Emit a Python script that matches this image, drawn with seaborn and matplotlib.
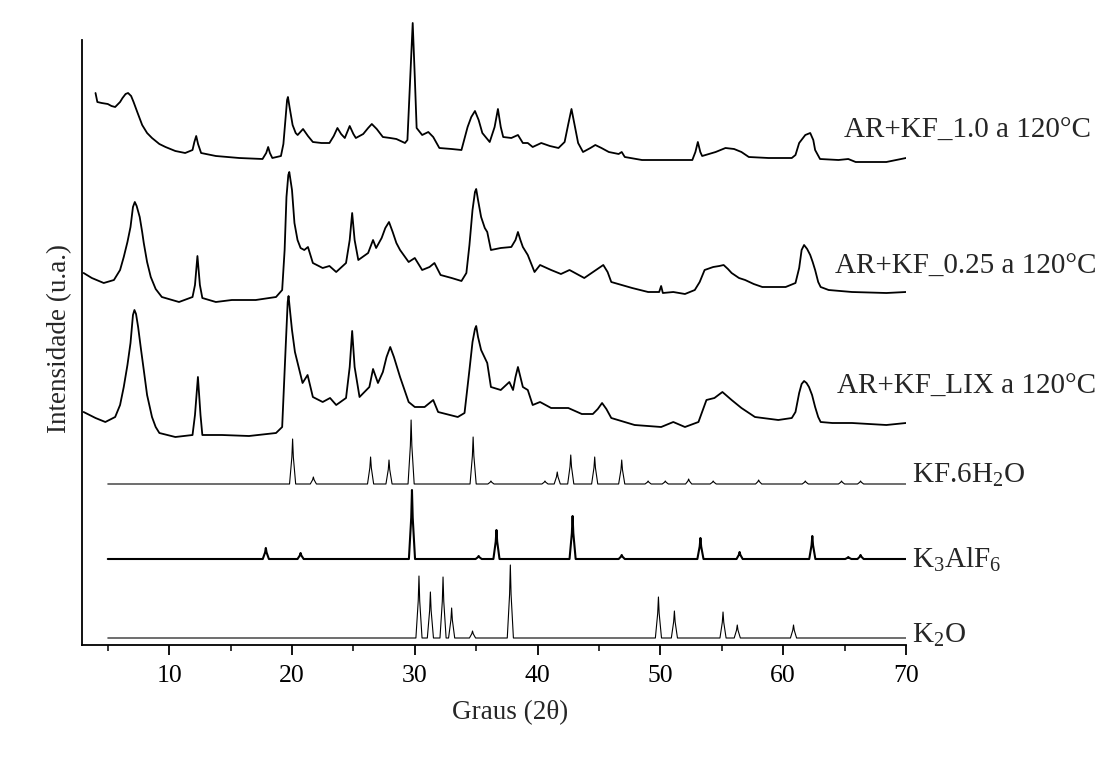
import numpy as np
import pandas as pd
import matplotlib
matplotlib.use("Agg")
import matplotlib.pyplot as plt
import seaborn as sns

# ---------------- data (2theta in degrees, intensity in a.u.) ----------------
kf10_x = [4.00, 4.15, 4.5, 5.0, 5.3, 5.6, 6.0, 6.2, 6.45, 6.65,
          6.9, 7.1, 7.4, 7.8, 8.2, 8.6, 9.2, 9.7, 10.5, 11.3,
          11.9, 12.05, 12.2, 12.35, 12.6, 13.8, 15.7, 17.6, 17.9, 18.06,
          18.2, 18.4, 19.1, 19.3, 19.45, 19.6, 19.67, 19.8, 20.05, 20.3,
          20.46, 20.9, 21.3, 21.7, 22.4, 23.05, 23.4, 23.7, 24.0, 24.3,
          24.7, 25.0, 25.2, 25.8, 26.2, 26.5, 26.9, 27.4, 28.0, 28.5,
          29.2, 29.4, 29.63, 29.83, 30.0, 30.15, 30.6, 31.1, 31.5, 32.0,
          33.0, 33.8, 34.3, 34.6, 34.9, 35.2, 35.5, 36.1, 36.5, 36.77,
          37.0, 37.2, 37.86, 38.4, 38.8, 39.2, 39.6, 40.3, 41.0, 41.7,
          42.2, 42.5, 42.76, 43.0, 43.3, 43.7, 44.3, 44.7, 45.2, 45.8,
          46.6, 46.85, 47.1, 48.5, 50.1, 52.6, 52.85, 53.05, 53.25, 53.4,
          54.5, 55.3, 56.0, 56.6, 57.2, 58.8, 60.7, 61.0, 61.3, 61.8,
          62.2, 62.45, 62.6, 63.0, 64.5, 65.3, 65.9, 68.4, 70.0]
kf10_y = [69, 60, 59, 58, 56, 55, 60, 64, 68, 69,
          66, 60, 50, 37, 29, 24, 18, 15, 11, 9,
          12, 20, 26, 18, 9, 6, 4, 3, 9, 15,
          9, 4, 6, 18, 40, 62, 65, 55, 37, 29,
          27, 33, 26, 20, 19, 19, 26, 34, 28, 24,
          36, 28, 24, 28, 34, 38, 33, 25, 24, 23,
          19, 22, 85, 139, 85, 34, 27, 30, 25, 14,
          13, 12, 35, 45, 51, 42, 29, 20, 35, 53,
          35, 25, 24, 27, 19, 19, 15, 19, 16, 14,
          20, 38, 53, 38, 19, 10, 14, 17, 14, 10,
          8, 10, 5, 2, 2, 2, 10, 20, 10, 6,
          10, 14, 13, 10, 5, 4, 4, 7, 19, 27,
          29, 22, 12, 3, 2, 3, 0, 0, 4]

kf025_x = [3.03, 3.7, 4.67, 5.5, 6.0, 6.3, 6.6, 6.85, 7.05, 7.2,
           7.35, 7.6, 7.8, 7.93, 8.2, 8.5, 8.9, 9.4, 10.8, 11.9,
           12.1, 12.3, 12.5, 12.7, 13.8, 15.1, 17.05, 18.7, 19.2, 19.4,
           19.55, 19.7, 19.78, 19.9, 20.0, 20.2, 20.45, 20.7, 21.0, 21.3,
           21.7, 22.5, 23.05, 23.6, 24.4, 24.7, 24.9, 25.1, 25.4, 26.2,
           26.6, 26.85, 27.3, 27.6, 27.9, 28.2, 28.5, 28.8, 29.5, 30.0,
           30.6, 31.2, 31.6, 32.1, 33.0, 33.8, 34.2, 34.45, 34.7, 34.9,
           35.0, 35.15, 35.4, 35.7, 35.9, 36.2, 37.0, 37.86, 38.2, 38.4,
           38.6, 38.8, 39.2, 39.75, 40.2, 41.1, 41.9, 42.6, 43.8, 44.4,
           45.0, 45.35, 45.7, 46.0, 47.7, 49.0, 49.9, 50.06, 50.2, 51.05,
           52.0, 52.8, 53.2, 53.6, 54.3, 54.8, 55.15, 55.5, 55.8, 56.4,
           56.9, 57.6, 58.3, 60.2, 61.0, 61.3, 61.5, 61.7, 61.95, 62.2,
           62.4, 62.6, 62.85, 63.05, 63.7, 65.6, 68.4, 70.0]
kf025_y = [27, 22, 17, 20, 30, 43, 58, 73, 93, 98,
           94, 83, 68, 57, 38, 23, 11, 3, -2, 3,
           15, 44, 15, 2, -2, 0, 0, 3, 10, 50,
           103, 125, 128, 118, 110, 77, 60, 52, 50, 53,
           37, 32, 34, 28, 37, 60, 87, 60, 40, 47,
           60, 52, 62, 72, 78, 68, 57, 50, 38, 42,
           30, 33, 37, 25, 22, 19, 27, 55, 90, 108,
           111, 100, 83, 72, 68, 50, 52, 53, 60, 68,
           60, 53, 45, 28, 35, 30, 26, 30, 22, 27,
           32, 35, 28, 18, 12, 8, 8, 14, 7, 8,
           6, 10, 18, 30, 33, 34, 35, 31, 27, 22,
           20, 16, 13, 13, 17, 32, 50, 55, 51, 45,
           38, 30, 18, 13, 10, 8, 7, 8]

kflix_x = [3.03, 4.0, 4.8, 5.6, 6.0, 6.3, 6.6, 6.85, 7.05, 7.17,
           7.3, 7.47, 7.7, 7.93, 8.2, 8.6, 8.9, 9.2, 10.5, 11.9,
           12.1, 12.34, 12.55, 12.7, 14.3, 16.5, 18.7, 19.2, 19.5, 19.65,
           19.72, 19.85, 20.0, 20.24, 20.6, 20.86, 21.27, 21.7, 22.5, 23.1,
           23.6, 24.4, 24.7, 24.9, 25.1, 25.5, 26.3, 26.6, 27.0, 27.4,
           27.7, 28.0, 28.3, 28.8, 29.5, 30.0, 30.8, 31.5, 31.9, 33.5,
           34.05, 34.45, 34.7, 34.9, 35.0, 35.15, 35.4, 35.9, 36.2, 37.0,
           37.7, 38.0, 38.2, 38.4, 38.6, 38.8, 39.2, 39.6, 40.2, 41.1,
           42.5, 43.6, 44.5, 44.9, 45.25, 45.6, 46.0, 47.9, 50.06, 51.05,
           52.0, 53.1, 53.75, 54.4, 55.05, 55.8, 56.6, 57.7, 59.6, 60.7,
           61.0, 61.3, 61.5, 61.7, 61.9, 62.1, 62.35, 62.6, 62.85, 63.05,
           64.0, 65.6, 68.4, 70.0]
kflix_y = [25, 19, 15, 20, 32, 50, 72, 94, 122, 127,
           123, 110, 88, 67, 42, 20, 10, 4, 0, 2,
           22, 60, 22, 2, 2, 1, 4, 10, 94, 135,
           141, 125, 107, 85, 67, 54, 62, 40, 35, 39,
           32, 39, 70, 106, 70, 40, 50, 68, 54, 65,
           80, 90, 80, 60, 35, 30, 30, 37, 25, 20,
           24, 67, 95, 108, 111, 100, 87, 74, 50, 47,
           55, 47, 60, 70, 60, 50, 47, 32, 35, 29,
           29, 23, 23, 28, 34, 28, 19, 12, 10, 15,
           10, 15, 37, 39, 45, 37, 29, 20, 17, 19,
           25, 44, 53, 56, 54, 50, 42, 30, 20, 15,
           14, 14, 12, 14]

kf6h2o_pos = [20.05, 21.74, 26.4, 27.9, 29.7, 34.75, 36.2, 40.6, 41.6, 42.7, 44.65, 46.85,
              49.0, 50.4, 52.3, 54.3, 58.0, 61.8, 64.75, 66.3]
kf6h2o_int = [45, 7, 27, 24, 64, 47, 3, 3, 12, 29, 27, 24, 3, 3, 5, 3, 4, 3, 3, 3]

k3alf6_pos = [17.87, 20.7, 29.77, 35.2, 36.65, 42.85, 46.85, 53.26, 56.45, 62.37, 65.3, 66.3]
k3alf6_int = [11, 6, 69, 3, 29, 43, 4, 21, 7, 23, 2, 4]

k2o_pos = [30.34, 31.27, 32.3, 33.0, 34.7, 37.78, 49.84, 51.14, 55.1, 56.26, 60.84]
k2o_int = [62, 46, 61, 30, 7, 73, 41, 27, 26, 13, 13]

labels = ["AR+KF_1.0 a 120°C", "AR+KF_0.25 a 120°C", "AR+KF_LIX a 120°C",
          r"KF.6H$_2$O", r"K$_3$AlF$_6$", r"K$_2$O"]
offsets = [483, 345, 208, 161, 86, 7]
ref_range = (5.0, 70.0)

# ---------------- style ----------------
sns.set_style("ticks")
plt.rcParams["font.family"] = ["Liberation Serif", "DejaVu Serif"]
plt.rcParams["mathtext.fontset"] = "custom"
plt.rcParams["mathtext.rm"] = "Liberation Serif"
plt.rcParams["mathtext.default"] = "regular"

fig = plt.figure(figsize=(11.01, 7.57), dpi=100)
ax = fig.add_axes([82 / 1101, 1 - 645 / 757, 824 / 1101, 630 / 757])


def stick_profile(pos, inten, half=0.25):
    xs, ys = [ref_range[0]], [0.0]
    for p, h in sorted(zip(pos, inten)):
        xs += [p - half, p - 0.06, p, p + 0.06, p + half]
        ys += [0.0, 0.6 * h, h, 0.6 * h, 0.0]
    xs.append(ref_range[1])
    ys.append(0.0)
    return np.array(xs), np.array(ys)


exp = [(kf10_x, kf10_y), (kf025_x, kf025_y), (kflix_x, kflix_y)]
for (xv, yv), off in zip(exp, offsets[:3]):
    df = pd.DataFrame({"x": xv, "y": np.array(yv, float) + off})
    sns.lineplot(data=df, x="x", y="y", ax=ax, color="black", lw=1.3,
                 estimator=None, sort=False)

refs = [(kf6h2o_pos, kf6h2o_int, 0.8), (k3alf6_pos, k3alf6_int, 1.5), (k2o_pos, k2o_int, 0.8)]
for (pv, iv, lw), off in zip(refs, offsets[3:]):
    xs, ys = stick_profile(pv, iv)
    df = pd.DataFrame({"x": xs, "y": ys + off})
    sns.lineplot(data=df, x="x", y="y", ax=ax, color="black", lw=lw,
                 estimator=None, sort=False)

ax.set_xlim(2.9, 70.0)
ax.set_ylim(0, 630)
ax.spines["top"].set_visible(False)
ax.spines["right"].set_visible(False)
ax.spines["left"].set_bounds(0, 605)
for s in ("left", "bottom"):
    ax.spines[s].set_linewidth(1.3)
    ax.spines[s].set_color("black")
ax.set_yticks([])
ax.set_xticks([10, 20, 30, 40, 50, 60, 70])
ax.set_xticks([5, 15, 25, 35, 45, 55, 65], minor=True)
ax.tick_params(axis="x", which="major", direction="out", length=7.5, width=1.3,
               labelsize=18.5, pad=7, colors="black")
ax.tick_params(axis="x", which="minor", direction="out", length=4.5, width=1.3)

ax.set_xlabel("Graus (2θ)", fontsize=19.5, labelpad=0)
ax.xaxis.set_label_coords(0.519, -0.087)
ax.set_ylabel("")
ax.text(-0.027, 0.486, "Intensidade (u.a.)", rotation=90, transform=ax.transAxes,
        ha="center", va="center", fontsize=19.5)

# curve labels
lab_pos = [(64.98, 514, "center"), (64.25, 378, "center"), (64.4, 258, "center"),
           (70.5, 162, "baseline"), (70.5, 77, "baseline"), (70.5, 2, "baseline")]
for (lx, ly, va), txt in zip(lab_pos, labels):
    ax.text(lx, ly, txt, ha="left", va=va, fontsize=21, clip_on=False)

fig.savefig("out.png", dpi=100)
